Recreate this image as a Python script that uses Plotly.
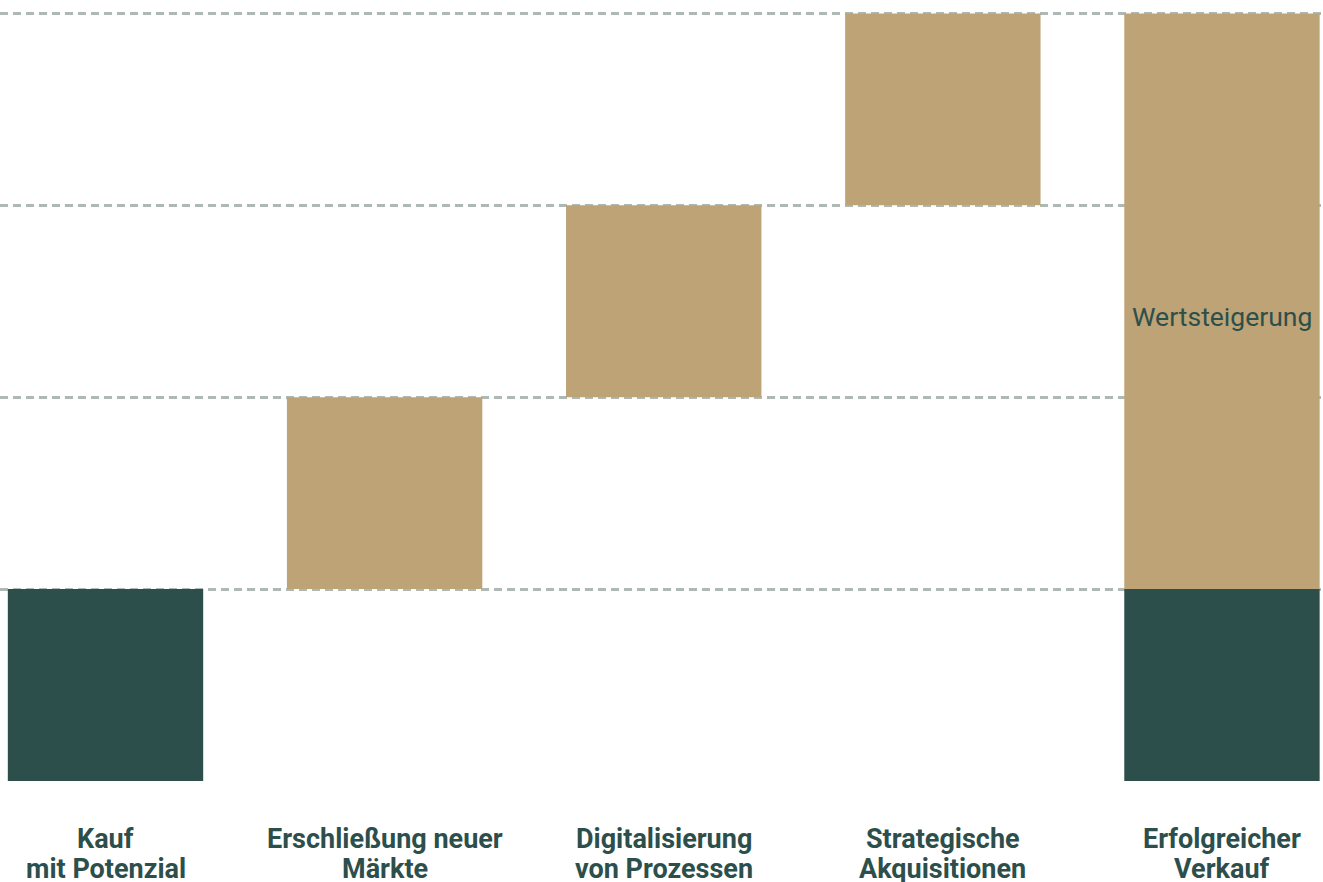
import plotly.graph_objects as go

categories = ["Kauf<br>mit Potenzial", "Erschließung neuer<br>Märkte", "Digitalisierung<br>von Prozessen",
              "Strategische<br>Akquisitionen", "Erfolgreicher<br>Verkauf"]
base_values = [1, None, None, None, 1]
gain_values = [None, 1, 1, 1, 3]
gain_bases = [None, 1, 2, 3, 1]
gain_label = "Wertsteigerung"
label_y = 2.42

DARK = "#2d4f4c"
GOLD = "#bda375"

fig = go.Figure()
fig.add_trace(go.Bar(x=categories, y=base_values, base=0, marker=dict(color=DARK, line_width=0),
                     width=0.7, hoverinfo="skip"))
fig.add_trace(go.Bar(x=categories, y=gain_values, base=gain_bases, marker=dict(color=GOLD, line_width=0),
                     width=0.7, hoverinfo="skip"))
fig.add_annotation(x=categories[4], y=label_y, text=gain_label, showarrow=False,
                   font=dict(family="Roboto", size=26.5, color=DARK))

# category labels, one annotation per line for tighter line spacing
for cat in categories:
    for i, line in enumerate(cat.split("<br>")):
        fig.add_annotation(x=cat, y=0, text=line, showarrow=False, yanchor="middle",
                           yshift=-58 - 29.5 * i,
                           font=dict(family="Roboto", size=27, color=DARK, weight="bold"))

fig.update_layout(
    width=1323, height=882, barmode="overlay", showlegend=False,
    margin=dict(l=0, r=0, t=0, b=101),
    plot_bgcolor="white", paper_bgcolor="white",
    xaxis=dict(type="category", range=[-0.378, 4.362], showgrid=False, zeroline=False, showline=False,
               ticks="", showticklabels=False),
    yaxis=dict(range=[0, 4.07], tickvals=[1, 2, 3, 4], showticklabels=False, zeroline=False,
               showgrid=True, gridcolor="#aeb8b4", gridwidth=2.5, griddash="8px,5px", showline=False),
)
fig.write_html("out.html")
